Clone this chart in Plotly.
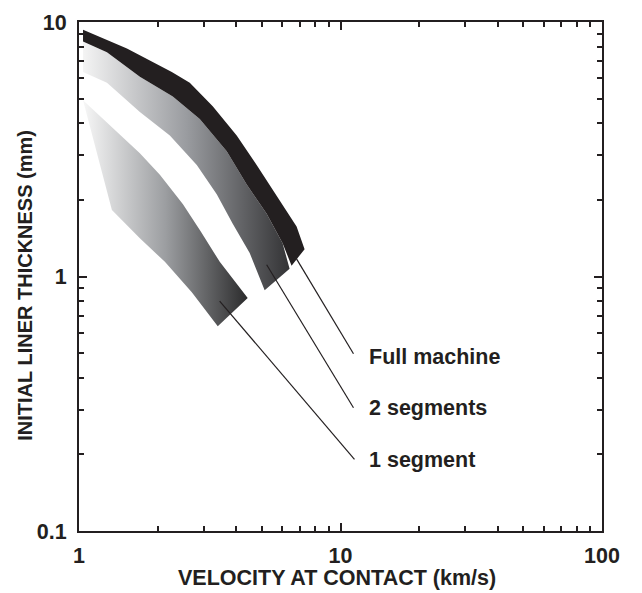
import numpy as np
import plotly.graph_objects as go

# ---- data ----
full_x = [1.036, 1.525, 2.264, 2.652, 3.246, 4.009, 4.779, 5.850, 6.793, 7.289,
          6.501, 6.006, 5.219, 4.378, 3.672, 2.896, 2.284, 1.709, 1.279, 1.036]
full_y = [9.316, 7.875, 6.366, 5.774, 4.669, 3.580, 2.744, 1.995, 1.571, 1.281,
          1.102, 1.351, 1.763, 2.299, 3.107, 4.162, 5.102, 6.090, 7.601, 8.377]

two_x = [1.036, 1.279, 1.709, 2.284, 2.896, 3.672, 4.378, 5.219, 6.006, 6.388,
         5.128, 4.495, 3.871, 3.363, 2.821, 2.225, 1.709, 1.279, 1.036]
two_y = [8.377, 7.601, 6.090, 5.102, 4.162, 3.107, 2.299, 1.763, 1.351, 1.073,
         0.883, 1.237, 1.613, 2.104, 2.744, 3.580, 4.428, 5.774, 6.366]

one_x = [1.036, 1.709, 2.038, 2.494, 2.922, 3.453, 4.417,
         3.393, 2.700, 2.130, 1.709, 1.336, 1.036]
one_y = [4.924, 3.052, 2.512, 1.926, 1.503, 1.142, 0.823,
         0.637, 0.868, 1.142, 1.413, 1.826, 4.924]

labels = ["Full machine", "2 segments", "1 segment"]
leader_x0 = [6.79, 5.22, 3.45]
leader_y0 = [1.173, 1.112, 0.801]
leader_x1 = [11.21, 11.21, 11.31]
leader_y1 = [0.497, 0.305, 0.191]
label_x = [12.6, 12.6, 12.6]
label_y = [0.484, 0.303, 0.190]

x_ticks = [1, 10, 100]
x_ticklabels = ["1", "10", "100"]
y_ticks = [0.1, 1, 10]
y_ticklabels = ["0.1", "1", "10"]

x_title = "VELOCITY AT CONTACT (km/s)"
y_title = "INITIAL LINER THICKNESS (mm)"

INK = "#231f20"
FONT = "Liberation Sans"

fig = go.Figure()

fig.add_trace(go.Scatter(
    x=one_x, y=one_y, mode="lines", fill="toself",
    line=dict(width=0, color="rgba(0,0,0,0)"),
    fillgradient=dict(type="horizontal",
                      colorscale=[[0, "#f7f7f7"], [0.5, "#9c9ea1"], [1, "#2b2b2c"]]),
    hoverinfo="skip", showlegend=False))

fig.add_trace(go.Scatter(
    x=two_x, y=two_y, mode="lines", fill="toself",
    line=dict(width=0, color="rgba(0,0,0,0)"),
    fillgradient=dict(type="horizontal",
                      colorscale=[[0, "#f4f4f4"], [0.5, "#9a9ca0"], [1, "#333335"]]),
    hoverinfo="skip", showlegend=False))

fig.add_trace(go.Scatter(
    x=full_x, y=full_y, mode="lines", fill="toself",
    line=dict(width=0, color=INK), fillcolor=INK,
    hoverinfo="skip", showlegend=False))

for i in range(len(labels)):
    fig.add_trace(go.Scatter(
        x=[leader_x0[i], leader_x1[i]], y=[leader_y0[i], leader_y1[i]],
        mode="lines", line=dict(color=INK, width=1.2),
        hoverinfo="skip", showlegend=False))
    fig.add_annotation(
        x=np.log10(label_x[i]), y=np.log10(label_y[i]), xref="x", yref="y",
        text=labels[i], showarrow=False, xanchor="left", yanchor="middle",
        font=dict(family=FONT, size=21.5, color=INK, weight="bold"))

axis_common = dict(
    type="log", showgrid=False, zeroline=False,
    showline=True, linewidth=2, linecolor=INK, mirror="ticks",
    ticks="inside", ticklen=8, tickwidth=2, tickcolor=INK,
    tickfont=dict(family=FONT, size=21.5, color=INK, weight="bold"),
    minor=dict(ticks="inside", ticklen=5, tickwidth=1.5, tickcolor=INK,
               showgrid=False, dtick="D1"),
)

fig.update_xaxes(**axis_common, range=[0, 2], tickvals=x_ticks,
                 ticktext=x_ticklabels, ticklabelstandoff=4)
fig.update_yaxes(**axis_common, range=[-1, 1], tickvals=y_ticks,
                 ticktext=y_ticklabels, ticklabelstandoff=6)

# axis titles (placed slightly off-centre, as in the reference)
fig.add_annotation(
    x=0.4933, y=-0.0923, xref="paper", yref="paper", text=x_title,
    showarrow=False, xanchor="center", yanchor="middle",
    font=dict(family=FONT, size=21.5, color=INK, weight="bold"))
fig.add_annotation(
    x=-0.1033, y=0.4837, xref="paper", yref="paper", text=y_title,
    showarrow=False, xanchor="center", yanchor="middle", textangle=-90,
    font=dict(family=FONT, size=20, color=INK, weight="bold"))

fig.update_layout(
    width=642, height=593,
    margin=dict(l=79, r=40, t=11, b=62),
    paper_bgcolor="white", plot_bgcolor="white",
    showlegend=False,
)

fig.write_html("out.html")
